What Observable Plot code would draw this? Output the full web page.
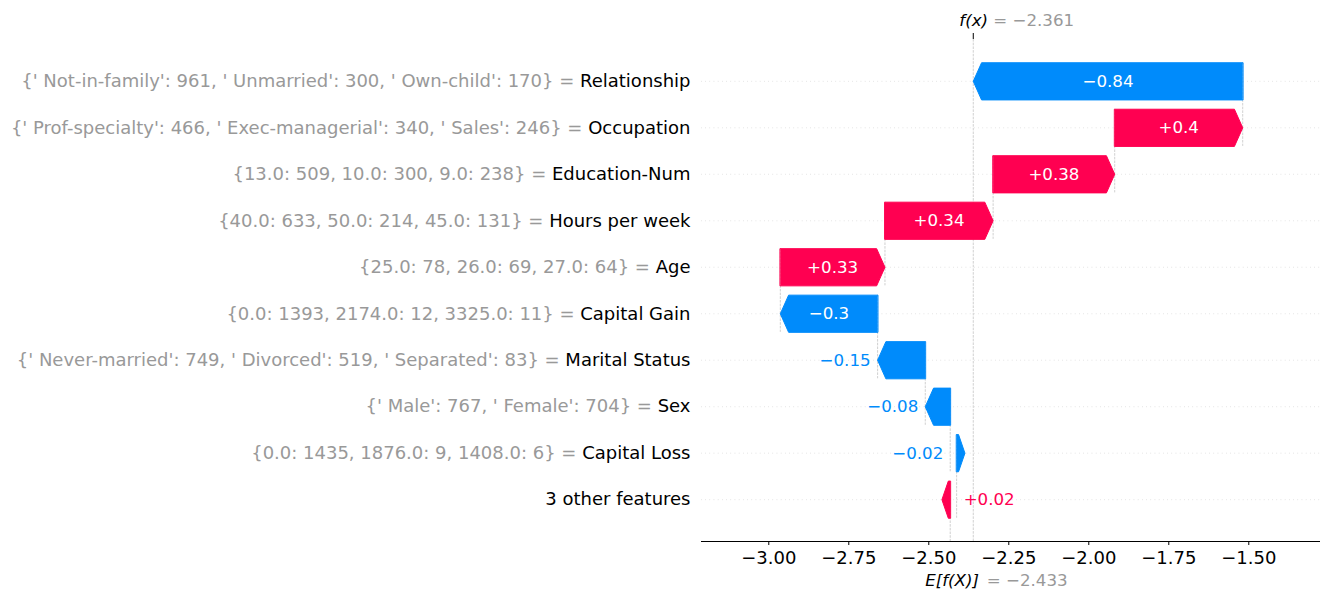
<!DOCTYPE html>
<html><head><meta charset="utf-8">
<script src="https://cdn.jsdelivr.net/npm/d3@7"></script>
<script src="https://cdn.jsdelivr.net/npm/@observablehq/plot@0.6"></script>
<style>body{margin:0;background:#fff;} svg{display:block}</style>
</head><body><div id="chart"></div>
<script>
// ---- data (top row first) ----
const featureNames = ["Relationship", "Occupation", "Education-Num", "Hours per week", "Age",
  "Capital Gain", "Marital Status", "Sex", "Capital Loss", "3 other features"];
const featureValues = [
  "{' Not-in-family': 961, ' Unmarried': 300, ' Own-child': 170}",
  "{' Prof-specialty': 466, ' Exec-managerial': 340, ' Sales': 246}",
  "{13.0: 509, 10.0: 300, 9.0: 238}",
  "{40.0: 633, 50.0: 214, 45.0: 131}",
  "{25.0: 78, 26.0: 69, 27.0: 64}",
  "{0.0: 1393, 2174.0: 12, 3325.0: 11}",
  "{' Never-married': 749, ' Divorced': 519, ' Separated': 83}",
  "{' Male': 767, ' Female': 704}",
  "{0.0: 1435, 1876.0: 9, 1408.0: 6}",
  ""];
const shapValues = [-0.842, 0.400, 0.380, 0.338, 0.327, -0.304, -0.149, -0.078, -0.020, 0.020];
const baseValue = -2.433;
const fxValue = -2.361;
const xTicks = [-3.00, -2.75, -2.50, -2.25, -2.00, -1.75, -1.50];

// ---- layout / style ----
const RED = "#ff0051", BLUE = "#008bfb", GRAY = "#999999";
const W = 1330, H = 600, mL = 701, mR = 10, mT = 39, mB = 59;
const xDomain = [-3.2103, -1.2759];
const yDomain = [9.9, -0.9];
const pxPerUnit = (W - mL - mR) / (xDomain[1] - xDomain[0]);
const rowPx = (H - mT - mB) / (yDomain[0] - yDomain[1]);
const headLen = 8.3 / pxPerUnit;
const n = featureNames.length;

// cumulative positions, built from the base value upward
const starts = new Array(n), ends = new Array(n);
let acc = baseValue;
for (let i = n - 1; i >= 0; i--) { starts[i] = acc; acc += shapValues[i]; ends[i] = acc; }

// arrow polygons
const polys = [];
shapValues.forEach((v, i) => {
  const s = starts[i], d = Math.sign(v), dist = Math.abs(v);
  const b = s + d * (dist - headLen);
  const dir = Math.sign(b - s) || d;
  const t = b + dir * Math.min(dist, headLen);
  const color = v >= 0 ? RED : BLUE;
  [[s, i - 0.4], [b, i - 0.4], [t, i], [b, i + 0.4], [s, i + 0.4]]
    .forEach(([x, y]) => polys.push({id: i, x, y, color}));
});

const fmt = v => d3.format("+.2f")(v).replace(/0+$/, "").replace(/\.$/, "");
const ctx = document.createElement("canvas").getContext("2d");
ctx.font = "16.67px 'DejaVu Sans'";
const labels = shapValues.map((v, i) => {
  const text = fmt(v);
  const inside = ctx.measureText(text).width < Math.abs(v) * pxPerUnit;
  return {i, v, text, inside, mid: (starts[i] + ends[i]) / 2, end: ends[i]};
});

const connectors = d3.range(n - 1).map(i => ({x: starts[i], y1: i - 0.4, y2: i + 1 + 0.4}));
const fullLabel = i => (featureValues[i] ? featureValues[i] + " = " : "") + featureNames[i];
const dashed = {stroke: "#bbbbbb", strokeWidth: 0.7, strokeDasharray: "2.6,1.1"};

const chart = Plot.plot({
  width: W, height: H, marginLeft: mL, marginRight: mR, marginTop: mT, marginBottom: mB,
  style: {fontFamily: "'DejaVu Sans', sans-serif", background: "white", overflow: "visible", color: "black"},
  x: {domain: xDomain},
  y: {domain: yDomain},
  marks: [
    Plot.ruleY(d3.range(n), {stroke: "#cccccc", strokeWidth: 0.7, strokeDasharray: "0.7,3.5"}),
    Plot.ruleX(connectors, {x: "x", y1: "y1", y2: "y2", ...dashed}),
    Plot.ruleX([fxValue], {x: d => d, y1: () => yDomain[1], y2: () => yDomain[0], ...dashed}),
    Plot.ruleX([baseValue], {x: d => d, y1: () => yDomain[0] - (yDomain[0] - yDomain[1]) / n, y2: () => yDomain[0], ...dashed}),
    Plot.line(polys, {x: "x", y: "y", z: "id", fill: "color", stroke: "color", strokeWidth: 1, curve: "linear-closed"}),
    Plot.text(labels.filter(d => d.inside), {x: "mid", y: "i", text: "text", fill: "white", fontSize: 16.67}),
    Plot.text(labels.filter(d => !d.inside && d.v < 0), {x: "end", y: "i", text: "text", fill: BLUE, textAnchor: "end", dx: -7, fontSize: 16.67}),
    Plot.text(labels.filter(d => !d.inside && d.v >= 0), {x: "end", y: "i", text: "text", fill: RED, textAnchor: "start", dx: 7, fontSize: 16.67}),
    Plot.ruleY([yDomain[0]], {stroke: "black", strokeWidth: 1}),
    Plot.axisX({ticks: xTicks, tickFormat: d3.format(".2f"), tickSize: 4, tickPadding: 6, fontSize: 18, stroke: "black", fill: "black"}),
    Plot.axisY({ticks: d3.range(n), tickSize: 0, tickPadding: 11, fontSize: 18, tickFormat: fullLabel, fill: "black"}),
    Plot.ruleX([fxValue], {x: d => d, y1: () => yDomain[1], y2: () => yDomain[1] - 6 / rowPx, stroke: "black", strokeWidth: 1}),
    Plot.text([fxValue], {x: d => d, y: () => yDomain[1], text: () => "f(x)", fontStyle: "italic", textAnchor: "start", dx: -14, dy: -19, fontSize: 16.67, fill: "black"}),
    Plot.text([fxValue], {x: d => d, y: () => yDomain[1], text: d => "= " + d3.format(".3f")(d), textAnchor: "start", dx: 20, dy: -19, fontSize: 16.67, fill: GRAY}),
    Plot.text([baseValue], {x: d => d, y: () => yDomain[0], text: () => "E[f(X)]", fontStyle: "italic", textAnchor: "start", dx: -25, dy: 39, fontSize: 16.67, fill: "black"}),
    Plot.text([baseValue], {x: d => d, y: () => yDomain[0], text: d => "= " + d3.format(".3f")(d), textAnchor: "start", dx: 36.5, dy: 39, fontSize: 16.67, fill: GRAY})
  ]
});

// two-colour y tick labels: grey feature value, black feature name
const ns = "http://www.w3.org/2000/svg";
chart.querySelectorAll('g[aria-label="y-axis tick label"] text').forEach(t => {
  const i = d3.range(n).find(k => fullLabel(k) === t.textContent);
  if (i === undefined) return;
  t.textContent = "";
  if (featureValues[i]) {
    const a = document.createElementNS(ns, "tspan");
    a.setAttribute("fill", GRAY);
    a.textContent = featureValues[i] + " = ";
    t.appendChild(a);
  }
  const b = document.createElementNS(ns, "tspan");
  b.setAttribute("fill", "black");
  b.textContent = featureNames[i];
  t.appendChild(b);
});
document.getElementById("chart").appendChild(chart);
</script>
</body></html>
